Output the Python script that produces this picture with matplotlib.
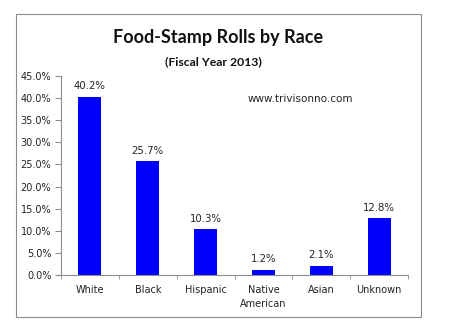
import numpy as np
import matplotlib.pyplot as plt
from matplotlib.patches import Rectangle
from matplotlib.ticker import PercentFormatter, FixedLocator

categories = ["White", "Black", "Hispanic", "Native\nAmerican", "Asian", "Unknown"]
shares = [40.2, 25.7, 10.3, 1.2, 2.1, 12.8]
yticks = [0, 5, 10, 15, 20, 25, 30, 35, 40, 45]

fig = plt.figure(figsize=(4.5, 3.31), dpi=100)
fig.patch.set_facecolor("white")

# outer chart border
fig.patches.append(Rectangle((16 / 450, 1 - 317 / 331), 405 / 450, 303 / 331,
                             transform=fig.transFigure, fill=False,
                             edgecolor="#8c8c8c", linewidth=0.8))

ax = fig.add_axes([61 / 450, 1 - 275 / 331, 347 / 450, 199 / 331])
xs = np.arange(len(categories))
bars = ax.bar(xs, shares, width=0.4, color="#0000ff")

for x, v in zip(xs, shares):
    ax.text(x, v + 1.3, f"{v:.1f}%", ha="center", va="bottom",
            fontsize=7.3, color="#222222")

ax.set_xlim(-0.5, len(categories) - 0.5)
ax.set_ylim(0, 45)
ax.set_yticks(yticks)
ax.yaxis.set_major_formatter(PercentFormatter(decimals=1))
ax.set_xticks(xs)
ax.set_xticklabels(categories, linespacing=1.5)
ax.xaxis.set_minor_locator(FixedLocator(np.arange(-0.5, len(categories), 1.0)))
ax.tick_params(axis="x", which="major", length=0, pad=7, labelsize=7)
ax.tick_params(axis="x", which="minor", length=3, color="#8c8c8c")
ax.tick_params(axis="y", length=4, color="#8c8c8c", labelsize=7, pad=3)
for lab in ax.get_xticklabels() + ax.get_yticklabels():
    lab.set_color("#222222")

for s in ["top", "right"]:
    ax.spines[s].set_visible(False)
for s in ["left", "bottom"]:
    ax.spines[s].set_color("#8c8c8c")
    ax.spines[s].set_linewidth(0.8)

fig.text(218 / 450, 1 - 37 / 331, "Food-Stamp Rolls by Race", ha="center",
         va="center", fontsize=13, fontweight="bold", family="Lato", color="#111111")
fig.text(213 / 450, 1 - 62 / 331, "(Fiscal Year 2013)", ha="center",
         va="center", fontsize=8.8, fontweight="bold", family="Lato", color="#111111")
fig.text(300 / 450, 1 - 99 / 331, "www.trivisonno.com", ha="center",
         va="center", fontsize=7.5, color="#222222")

fig.savefig("out.png", dpi=100)
